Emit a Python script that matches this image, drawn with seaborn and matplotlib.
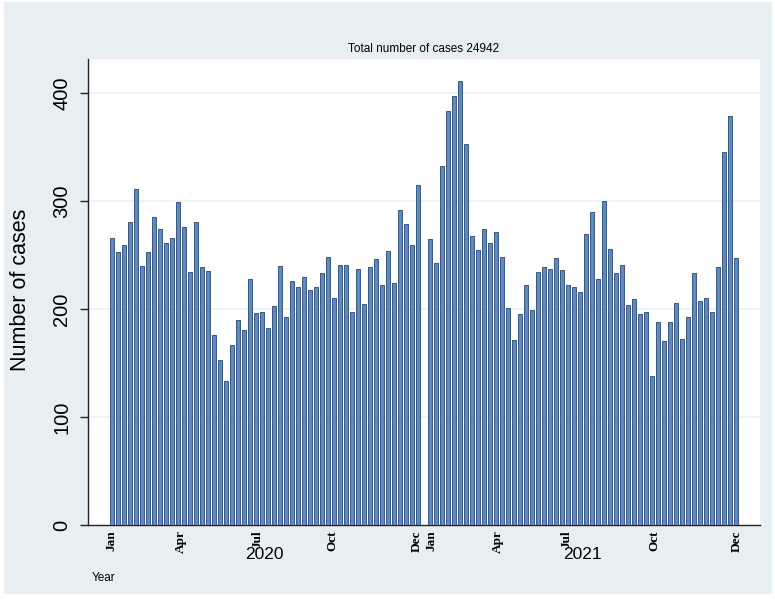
import numpy as np
import pandas as pd
import matplotlib
matplotlib.use("Agg")
import matplotlib.pyplot as plt
import matplotlib.transforms as mtransforms
import seaborn as sns

sns.set_theme(style="white")
plt.rcParams['font.family'] = ['Liberation Sans', 'DejaVu Sans']
plt.rcParams['text.color'] = 'black'
plt.rcParams['xtick.color'] = 'black'
plt.rcParams['ytick.color'] = 'black'

# weekly case counts
cases_2020 = [266, 253, 259, 281, 311, 240, 253, 285, 274, 261, 266, 299, 276,
              234, 281, 239, 235, 176, 153, 133, 167, 190, 181, 228, 196, 197,
              182, 203, 240, 193, 226, 220, 230, 218, 220, 233, 248, 210, 241,
              241, 197, 237, 205, 239, 246, 222, 254, 224, 292, 279, 259, 315]
cases_2021 = [265, 243, 332, 383, 397, 411, 353, 268, 255, 274, 261, 271, 248,
              201, 171, 195, 222, 199, 234, 239, 237, 247, 236, 222, 220, 216,
              269, 290, 228, 300, 256, 233, 241, 204, 209, 195, 197, 138, 188,
              170, 188, 206, 172, 193, 233, 207, 210, 197, 239, 345, 379, 247]
years = [2020, 2021]
year_offset = {2020: 0, 2021: 53}

# month labels and where they sit (week index within the year)
month_labels = ['Jan', 'Apr', 'Jul', 'Oct', 'Dec']
month_weeks_2020 = [0, 11.5, 24.2, 36.7, 50.9]
month_weeks_2021 = [0.3, 11.4, 22.8, 37.4, 51.2]

df = pd.DataFrame({
    'year': [2020] * len(cases_2020) + [2021] * len(cases_2021),
    'week': list(range(len(cases_2020))) + list(range(len(cases_2021))),
    'cases': cases_2020 + cases_2021,
})
df['pos'] = df['week'] + df['year'].map(year_offset)

W, H = 775, 602
fig = plt.figure(figsize=(W / 100, H / 100), dpi=100)
fig.patch.set_facecolor('white')
bg = plt.Rectangle((4 / W, 1 - 594 / H), 768 / W, 592 / H,
                   transform=fig.transFigure, facecolor='#E8EFF2',
                   edgecolor='none', zorder=-10)
fig.add_artist(bg)

ax = fig.add_axes([88 / W, 1 - 525 / H, (760 - 88) / W, (525 - 59) / H])
ax.set_zorder(1)
ax.set_facecolor('white')

sns.barplot(data=df, x='pos', y='cases', native_scale=True, errorbar=None,
            width=0.64, color='#5C8AC2', edgecolor='#28466E', linewidth=0.6,
            saturation=1, ax=ax, zorder=3)

ax.set_xlim(-3.95, 108.05)
ax.set_ylim(0, 431.5)

# gridlines
ax.set_yticks([0, 100, 200, 300, 400])
for v in [100, 200, 300, 400]:
    ax.axhline(v, color='#EDF1F3', lw=1.2, zorder=1)

ax.tick_params(axis='y', which='major', direction='out', length=6, width=1,
               color='#222222', labelsize=14.5, pad=6, left=True)
for lab in ax.get_yticklabels():
    lab.set_rotation(90)
    lab.set_va('center')

ticks = [w + year_offset[2020] for w in month_weeks_2020] + \
        [w + year_offset[2021] for w in month_weeks_2021]
ax.set_xticks(ticks)
ax.set_xticklabels(month_labels + month_labels, rotation=90,
                   family=['Liberation Serif', 'DejaVu Serif'],
                   fontweight='bold', fontsize=9.5, va='top', ha='center')
ax.tick_params(axis='x', length=0, pad=4)

# year labels under each group
trans = mtransforms.blended_transform_factory(ax.transData, ax.transAxes)
for yr, vals in zip(years, [cases_2020, cases_2021]):
    mid = year_offset[yr] + (len(vals) - 1) / 2
    ax.text(mid, -0.064, str(yr), transform=trans, ha='center', va='center',
            fontsize=12.5)

for side in ['top', 'right']:
    ax.spines[side].set_visible(False)
for side in ['left', 'bottom']:
    ax.spines[side].set_color('#222222')
    ax.spines[side].set_linewidth(1)

ax.set_xlabel('')
ax.set_ylabel('')
fig.text(20.5 / W, 1 - 290 / H, 'Number of cases', rotation=90,
         ha='center', va='center', fontsize=15.5)
fig.text(424 / W, 1 - 49 / H, f'Total number of cases {sum(df["cases"])}',
         ha='center', va='center', fontsize=8.5)
fig.text(92 / W, 1 - 578 / H, 'Year', ha='left', va='center', fontsize=8.5)

fig.savefig('out.png', dpi=100, facecolor=fig.get_facecolor())
